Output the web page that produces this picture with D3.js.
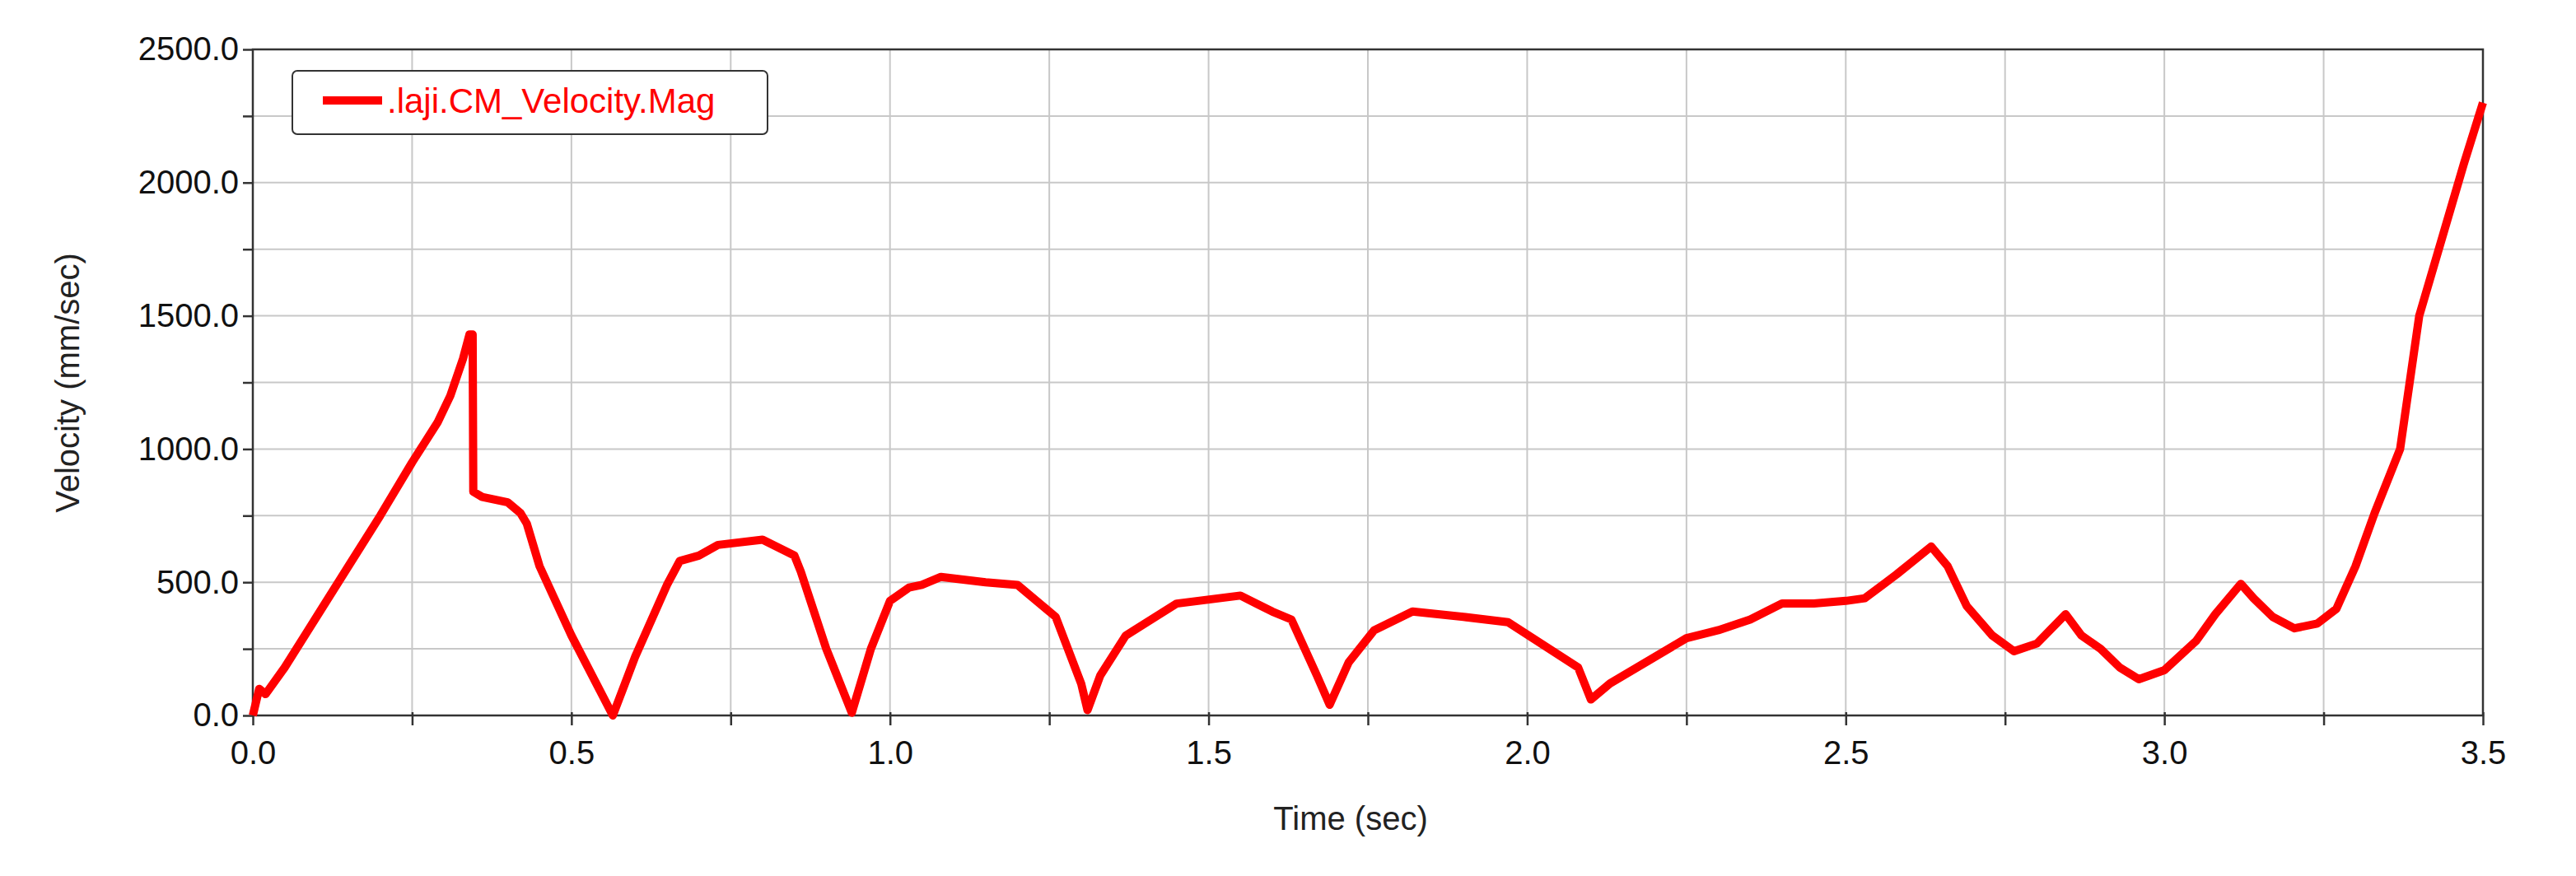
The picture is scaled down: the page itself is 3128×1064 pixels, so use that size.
<!DOCTYPE html>
<html><head><meta charset="utf-8">
<script src="https://cdn.jsdelivr.net/npm/d3@7"></script>
<style>body{margin:0;background:#fff}svg{display:block;font-family:"Liberation Sans",Arial,sans-serif}</style>
</head><body><svg id="chart" width="3128" height="1064"></svg>
<script>
// time (sec) and velocity magnitude (mm/sec)
const times = [0,0.01,0.02,0.05,0.1,0.15,0.2,0.25,0.29,0.31,0.33,0.34,0.345,0.346,0.36,0.40,0.42,0.43,0.45,0.5,0.565,0.6,0.65,0.67,0.7,0.73,0.8,0.85,0.86,0.9,0.94,0.97,1.0,1.03,1.05,1.08,1.15,1.2,1.26,1.3,1.31,1.33,1.37,1.45,1.55,1.6,1.63,1.67,1.69,1.72,1.76,1.82,1.9,1.97,2.08,2.1,2.13,2.25,2.3,2.35,2.4,2.45,2.5,2.53,2.58,2.634,2.66,2.69,2.73,2.764,2.8,2.845,2.87,2.9,2.93,2.96,3.0,3.05,3.08,3.12,3.14,3.17,3.204,3.24,3.27,3.3,3.33,3.37,3.40,3.47,3.5];
const velocity = [0,100,80,180,370,560,750,950,1100,1200,1340,1430,1430,840,820,800,760,720,560,300,0,220,490,580,600,640,660,600,540,250,10,250,430,480,490,520,500,490,370,120,20,150,300,420,450,390,360,150,40,200,320,390,370,350,180,60,120,290,320,360,420,420,430,440,530,634,560,410,300,241,270,380,300,250,180,136,170,280,380,494,440,370,327,345,400,560,760,1000,1500,2070,2300];
const xTicks = [0,0.5,1.0,1.5,2.0,2.5,3.0,3.5];
const yTicks = [0,500,1000,1500,2000,2500];
const seriesName = ".laji.CM_Velocity.Mag";

const svg = d3.select("#chart");
const L = 307, R = 3015, T = 60, B = 869;
const x = d3.scaleLinear().domain([0, 3.5]).range([L, R]);
const y = d3.scaleLinear().domain([0, 2500]).range([B, T]);

// grid
const g = svg.append("g").attr("stroke", "#c8c8c8").attr("stroke-width", 2);
d3.range(0.25, 3.5, 0.25).forEach(v => g.append("line").attr("x1", x(v)).attr("x2", x(v)).attr("y1", T).attr("y2", B));
d3.range(250, 2500, 250).forEach(v => g.append("line").attr("x1", L).attr("x2", R).attr("y1", y(v)).attr("y2", y(v)));

// frame
svg.append("rect").attr("x", L).attr("y", T).attr("width", R - L).attr("height", B - T)
  .attr("fill", "none").attr("stroke", "#333").attr("stroke-width", 2.5);

// axes
const xAxis = svg.append("g").attr("transform", `translate(0,${B})`)
  .call(d3.axisBottom(x).tickValues(d3.range(0, 3.51, 0.25)).tickSize(12).tickFormat(d => xTicks.some(t => Math.abs(t - d) < 1e-9) ? d.toFixed(1) : ""));
const yAxis = svg.append("g").attr("transform", `translate(${L},0)`)
  .call(d3.axisLeft(y).tickValues(d3.range(0, 2501, 250)).tickSize(12).tickFormat(d => yTicks.includes(d) ? d.toFixed(1) : ""));
[xAxis, yAxis].forEach(a => {
  a.select(".domain").remove();
  a.selectAll(".tick line").attr("stroke", "#333").attr("stroke-width", 2.5);
  a.selectAll("text").attr("font-size", 40).attr("fill", "#111").attr("font-family", "Liberation Sans, Arial, sans-serif");
});
xAxis.selectAll(".tick line").attr("y1", -4);
xAxis.selectAll("text").attr("dy", "1.1em");
yAxis.selectAll("text").attr("dx", "-0.05em");

// axis titles
svg.append("text").attr("x", 1640).attr("y", 1008).attr("text-anchor", "middle")
  .attr("font-size", 40).attr("fill", "#222").text("Time (sec)");
svg.append("text").attr("transform", "translate(96,465) rotate(-90)").attr("text-anchor", "middle")
  .attr("font-size", 40).attr("fill", "#222").text("Velocity (mm/sec)");

// series
const data = times.map((t, i) => [t, velocity[i]]);
svg.append("path").datum(data)
  .attr("fill", "none").attr("stroke", "#ff0000").attr("stroke-width", 10).attr("stroke-linejoin", "round")
  .attr("d", d3.line().x(d => x(d[0])).y(d => y(d[1])));

// legend
const lg = svg.append("g");
lg.append("rect").attr("x", 355).attr("y", 86).attr("width", 577).attr("height", 77).attr("rx", 6)
  .attr("fill", "#fff").attr("stroke", "#333").attr("stroke-width", 2);
lg.append("line").attr("x1", 392).attr("x2", 464).attr("y1", 122).attr("y2", 122)
  .attr("stroke", "#ff0000").attr("stroke-width", 10);
lg.append("text").attr("x", 470).attr("y", 137).attr("font-size", 42).attr("fill", "#ff0000").text(seriesName);
</script></body></html>
